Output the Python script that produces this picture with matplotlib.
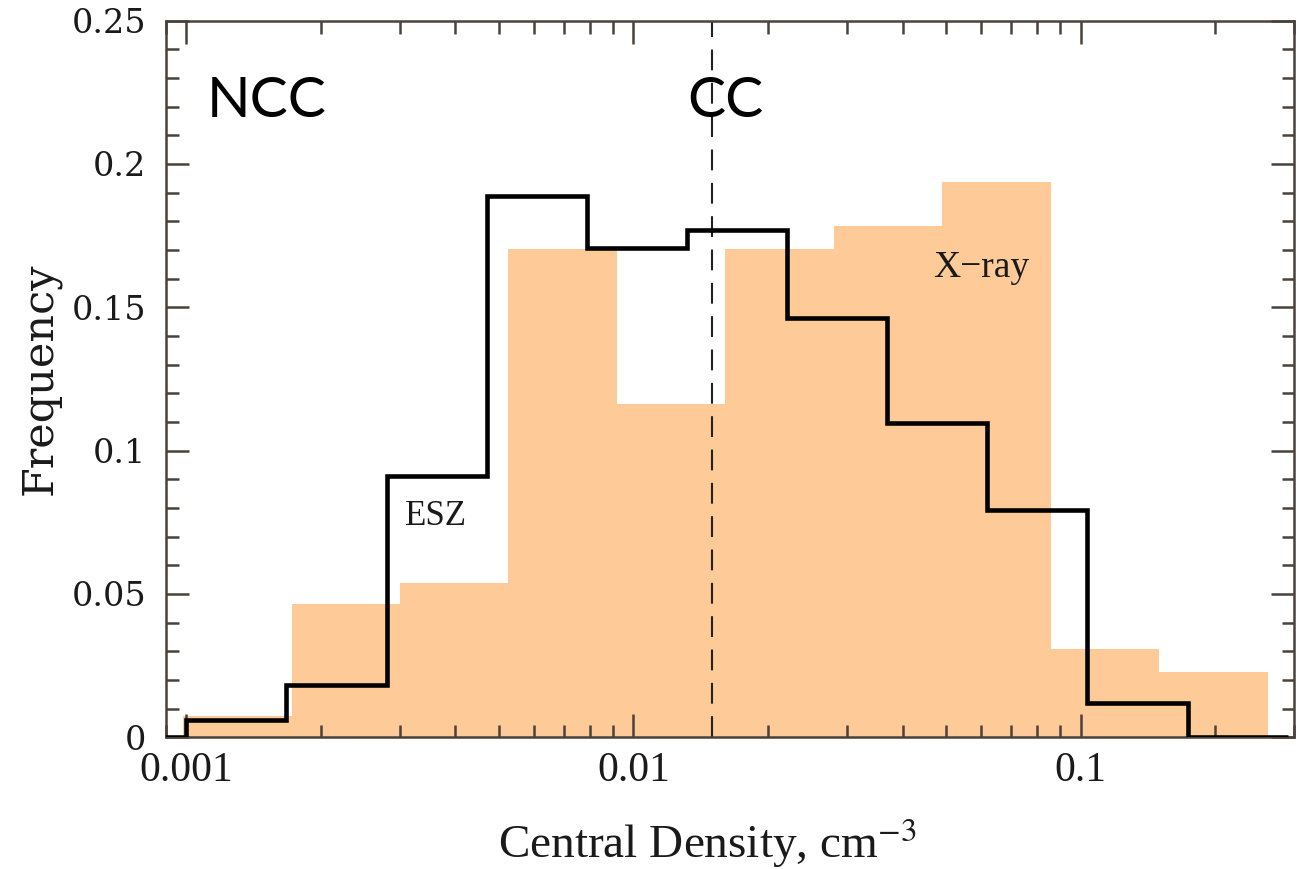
import matplotlib
matplotlib.use("Agg")
import matplotlib.pyplot as plt
from matplotlib.ticker import FixedLocator, LogLocator, NullFormatter, MultipleLocator

plt.rcParams["mathtext.fontset"] = "stix"

# ESZ histogram (black step line), bin edges in cm^-3
esz_edges = [0.000597, 0.001, 0.001675, 0.002805, 0.00470, 0.00787, 0.01318,
             0.02203, 0.0369, 0.0618, 0.1035, 0.1734, 0.2904]
esz_freq = [0.0, 0.0060, 0.0181, 0.0912, 0.1887, 0.1707, 0.1769,
            0.1461, 0.1097, 0.0793, 0.0120, 0.0]

# X-ray histogram (filled)
xray_edges = [0.000985, 0.00172, 0.00301, 0.00525, 0.00918, 0.01605,
              0.02805, 0.0490, 0.0857, 0.1498, 0.262]
xray_freq = [0.0075, 0.0465, 0.0539, 0.1703, 0.1162, 0.1703,
             0.1783, 0.1936, 0.0307, 0.0228]

cc_cut = 0.015
xticks = [0.001, 0.01, 0.1]
xticklabels = ["0.001", "0.01", "0.1"]
yticks = [0, 0.05, 0.1, 0.15, 0.2, 0.25]
yticklabels = ["0", "0.05", "0.1", "0.15", "0.2", "0.25"]

edge = "#4a423a"
fig = plt.figure(figsize=(13.06, 8.69), dpi=100)
ax = fig.add_axes([0.1269, 0.1516, 0.8639, 0.8246])

ax.stairs(xray_freq, xray_edges, fill=True, color="#fecb98", lw=0, zorder=1)
ax.stairs(esz_freq, esz_edges, color="black", lw=3.3, zorder=3)
ax.axvline(cc_cut, color="#222222", lw=1.5, dashes=(10, 6), zorder=2)

ax.set_xscale("log")
ax.set_xlim(0.0009, 0.3)
ax.set_ylim(0, 0.25)

ax.xaxis.set_major_locator(FixedLocator(xticks))
ax.set_xticklabels(xticklabels, fontfamily="Liberation Serif", fontsize=30, color="#1a1a1a")
ax.xaxis.set_minor_locator(LogLocator(base=10, subs=range(2, 10)))
ax.xaxis.set_minor_formatter(NullFormatter())
ax.set_yticks(yticks)
ax.set_yticklabels(yticklabels, fontfamily="DejaVu Serif", fontsize=24, color="#1a1a1a")
ax.yaxis.set_minor_locator(MultipleLocator(0.01))

ax.tick_params(which="both", direction="in", top=True, right=True, color=edge, width=1.8)
ax.tick_params(which="major", length=16.5)
ax.tick_params(which="minor", length=9)
ax.tick_params(axis="x", which="major", pad=10)
ax.tick_params(axis="y", which="major", pad=14)
for s in ax.spines.values():
    s.set_color(edge)
    s.set_linewidth(1.8)

ax.set_xlabel("Central Density, cm$^{-3}$", fontfamily="Liberation Serif", fontsize=34,
              color="#1a1a1a", labelpad=16)
ax.xaxis.set_label_coords(0.48, -0.11)
ax.set_ylabel("Frequency", fontfamily="DejaVu Serif", fontsize=31, color="#1a1a1a", labelpad=8)

ax.text(0.00111, 0.2163, "NCC", fontfamily="Lato", fontsize=41, color="black")
ax.text(0.0132, 0.2163, "CC", fontfamily="Lato", fontsize=41, color="black")
ax.text(0.00308, 0.074, "ESZ", fontfamily="Liberation Serif", fontsize=25, color="#1a1a1a")
ax.text(0.0469, 0.1605, "X\u2212ray", fontfamily="Liberation Serif", fontsize=27, color="#1a1a1a")

fig.savefig("out.png", dpi=100)
